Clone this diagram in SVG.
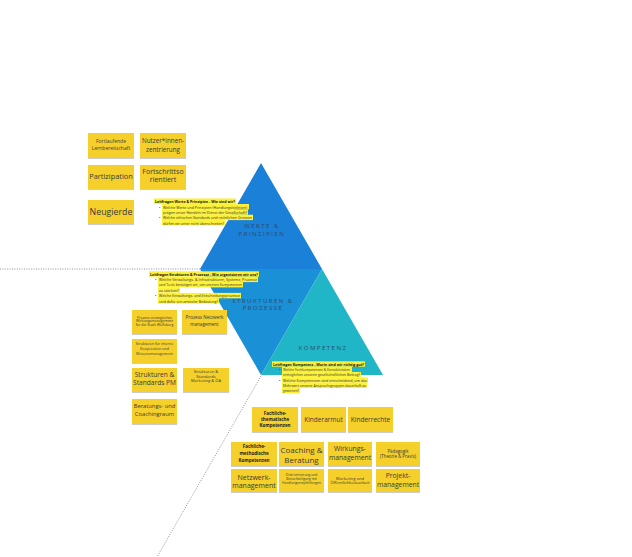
<svg xmlns="http://www.w3.org/2000/svg" width="632" height="557" viewBox="0 0 632 557">
<defs>
<filter id="sh" x="-10%" y="-10%" width="120%" height="130%">
<feDropShadow dx="0" dy="0.8" stdDeviation="0.6" flood-color="#000" flood-opacity="0.25"/>
</filter>
<style>
.st{fill:#f5d02c;filter:url(#sh)}
.t{font-family:"Open Sans","Liberation Sans",sans-serif;fill:#3a3a3a;text-anchor:middle}
.b{font-weight:bold;fill:#222}
.lab{font-family:"Open Sans","Liberation Sans",sans-serif;fill:#2e4b6c;text-anchor:middle;font-size:6px;letter-spacing:1.5px}
.hl{fill:#fbf03a}
.q{font-family:"Open Sans","Liberation Sans",sans-serif;font-size:3.8px;fill:#333}
.qt{font-weight:bold;fill:#111}
.dot{fill:none;stroke:#777;stroke-width:0.8;stroke-dasharray:1 1.4}
</style>
</defs>
<rect width="632" height="557" fill="#ffffff"/>

<g id="connectors">
<line class="dot" x1="0" y1="269" x2="200" y2="269"/>
<line class="dot" x1="261" y1="376" x2="157" y2="557"/>
</g>

<g id="pyramid-werte">
<polygon points="261,163 200,269 322,269" fill="#1b80d8"/>
<text class="lab" x="262" y="228">WERTE &amp;</text>
<text class="lab" x="262" y="235.5">PRINZIPIEN</text>
</g>
<g id="pyramid-strukturen">
<polygon points="200,269 322,269 261,375" fill="#1a90d6"/>
<text class="lab" x="263" y="303">STRUKTUREN &amp;</text>
<text class="lab" x="263" y="310">PROZESSE</text>
</g>
<g id="pyramid-kompetenz">
<polygon points="322,269 261,375 383,375" fill="#21b5c8"/>
<text class="lab" x="323" y="350">KOMPETENZ</text>
</g>

<g id="leitfragen-werte">
<rect class="hl" x="154" y="198.5" width="82" height="5.4"/>
<rect class="hl" x="162" y="204" width="87" height="5.4"/>
<rect class="hl" x="162" y="209.4" width="86" height="5.4"/>
<rect class="hl" x="162" y="214.7" width="91" height="5.4"/>
<rect class="hl" x="162" y="220" width="63" height="5.4"/>
<text class="q qt" x="155" y="202.8" textLength="80" lengthAdjust="spacingAndGlyphs">Leitfragen Werte &amp; Prinzipien - Wie sind wir?</text>
<text class="q" x="159" y="208.6">•</text>
<text class="q" x="163" y="208.6" textLength="84" lengthAdjust="spacingAndGlyphs">Welche Werte und Prinzipien (Handlungsleitlinien)</text>
<text class="q" x="163" y="214" textLength="84" lengthAdjust="spacingAndGlyphs">prägen unser Handeln im Dienst der Gesellschaft?</text>
<text class="q" x="159" y="219.2">•</text>
<text class="q" x="163" y="219.2" textLength="89" lengthAdjust="spacingAndGlyphs">Welche ethischen Standards und rechtlichen Grenzen</text>
<text class="q" x="163" y="224.5" textLength="61" lengthAdjust="spacingAndGlyphs">dürfen wir unter nicht überschreiten?</text>
</g>

<g id="leitfragen-strukturen">
<rect class="hl" x="149" y="271.3" width="110" height="5.4"/>
<rect class="hl" x="158" y="276.7" width="100" height="5.4"/>
<rect class="hl" x="158" y="282" width="85" height="5.4"/>
<rect class="hl" x="158" y="287.3" width="22" height="5.4"/>
<rect class="hl" x="158" y="292.9" width="83" height="5.4"/>
<rect class="hl" x="158" y="298.2" width="61" height="5.4"/>
<text class="q qt" x="150" y="275.6" textLength="108" lengthAdjust="spacingAndGlyphs">Leitfragen Strukturen &amp; Prozesse - Wie organisieren wir uns?</text>
<text class="q" x="155" y="281">•</text>
<text class="q" x="159" y="281" textLength="98" lengthAdjust="spacingAndGlyphs">Welche Verwaltungs- &amp; Infrastrukturen, Systeme, Prozesse</text>
<text class="q" x="159" y="286.3" textLength="83" lengthAdjust="spacingAndGlyphs">und Tools benötigen wir, um unseren Kompetenzen</text>
<text class="q" x="159" y="291.6" textLength="20" lengthAdjust="spacingAndGlyphs">zu stärken?</text>
<text class="q" x="155" y="297.2">•</text>
<text class="q" x="159" y="297.2" textLength="81" lengthAdjust="spacingAndGlyphs">Welche Verwaltungs- und Entscheidungsprozesse</text>
<text class="q" x="159" y="302.5" textLength="59" lengthAdjust="spacingAndGlyphs">sind dafür von zentraler Bedeutung?</text>
</g>

<g id="leitfragen-kompetenz">
<rect class="hl" x="272" y="361.3" width="93" height="5.4"/>
<rect class="hl" x="282" y="366.6" width="70" height="5.4"/>
<rect class="hl" x="282" y="372" width="79" height="5.4"/>
<rect class="hl" x="282" y="377.3" width="86" height="5.4"/>
<rect class="hl" x="282" y="382.6" width="85" height="5.4"/>
<rect class="hl" x="282" y="387.9" width="18" height="5.4"/>
<text class="q qt" x="273" y="365.6" textLength="91" lengthAdjust="spacingAndGlyphs">Leitfragen Kompetenz - Worin sind wir richtig gut?</text>
<text class="q" x="279" y="370.9">•</text>
<text class="q" x="283" y="370.9" textLength="67" lengthAdjust="spacingAndGlyphs">Welche Fachkompetenzen &amp; Kernaktivitäten</text>
<text class="q" x="283" y="376.3" textLength="77" lengthAdjust="spacingAndGlyphs">ermöglichen unseren gesellschaftlichen Beitrag?</text>
<text class="q" x="279" y="381.6">•</text>
<text class="q" x="283" y="381.6" textLength="84" lengthAdjust="spacingAndGlyphs">Welche Kompetenzen sind entscheidend, um das</text>
<text class="q" x="283" y="386.9" textLength="83" lengthAdjust="spacingAndGlyphs">Mehrwert unserer Anspruchsgruppen dauerhaft zu</text>
<text class="q" x="283" y="392.2" textLength="16" lengthAdjust="spacingAndGlyphs">gewinnen?</text>
</g>

<g id="note-lernbereitschaft">
<rect class="st" x="88" y="133" width="46" height="25"/>
<text class="t" x="111" y="142.5" font-size="5">Fortlaufende</text>
<text class="t" x="111" y="150" font-size="5">Lernbereitschaft</text>
</g>
<g id="note-nutzerzentrierung">
<rect class="st" x="140" y="133" width="46" height="25"/>
<text class="t" x="163" y="143" font-size="6.3">Nutzer*innen-</text>
<text class="t" x="163" y="151.5" font-size="6.3">zentrierung</text>
</g>
<g id="note-partizipation">
<rect class="st" x="88" y="165" width="46" height="24"/>
<text class="t" x="111" y="178.5" font-size="7.4">Partizipation</text>
</g>
<g id="note-fortschritt">
<rect class="st" x="140" y="165" width="46" height="24"/>
<text class="t" x="163" y="174.3" font-size="7">Fortschrittso</text>
<text class="t" x="163" y="182.3" font-size="7">rientiert</text>
</g>
<g id="note-neugierde">
<rect class="st" x="88" y="200" width="46" height="24"/>
<text class="t" x="111" y="214.5" font-size="8.8">Neugierde</text>
</g>

<g id="note-wirkungsmanagement">
<rect class="st" x="132" y="310" width="45" height="24"/>
<text class="t" x="154.5" y="318.6" font-size="3.5">Prozess strategisches</text>
<text class="t" x="154.5" y="322.4" font-size="3.5">Wirkungsmanagement</text>
<text class="t" x="154.5" y="326.2" font-size="3.5">für die Stadt Wolfsburg</text>
</g>
<g id="note-prozess-netzwerk">
<rect class="st" x="182" y="310" width="45" height="24"/>
<text class="t" x="204.5" y="319" font-size="4.6">Prozess Netzwerk</text>
<text class="t" x="204.5" y="325.6" font-size="4.6">management</text>
</g>
<g id="note-kooperation">
<rect class="st" x="132" y="339" width="45" height="24"/>
<text class="t" x="154.5" y="345.4" font-size="3.7">Strukturen für interne</text>
<text class="t" x="154.5" y="350.4" font-size="3.7">Kooperation und</text>
<text class="t" x="154.5" y="355.4" font-size="3.7">Wissensmanagement</text>
</g>
<g id="note-standards-pm">
<rect class="st" x="132" y="368" width="45" height="24"/>
<text class="t" x="154.5" y="376.5" font-size="6.6">Strukturen &amp;</text>
<text class="t" x="154.5" y="385" font-size="6.6">Standards PM</text>
</g>
<g id="note-standards-marketing">
<rect class="st" x="183" y="368" width="46" height="24"/>
<text class="t" x="206" y="373.3" font-size="4.1">Strukturen &amp;</text>
<text class="t" x="206" y="377.6" font-size="4.1">Standards</text>
<text class="t" x="206" y="381.9" font-size="4.1">Marketing &amp; ÖA</text>
</g>
<g id="note-beratungsraum">
<rect class="st" x="132" y="399" width="45" height="25"/>
<text class="t" x="154.5" y="408.2" font-size="5.8">Beratungs- und</text>
<text class="t" x="154.5" y="415.6" font-size="5.8">Coachingraum</text>
</g>

<g id="note-fachlich-thematisch">
<rect class="st" x="252" y="407" width="46" height="25"/>
<text class="t b" x="275" y="414.6" font-size="4.5">Fachliche-</text>
<text class="t b" x="275" y="420.8" font-size="4.5">thematische</text>
<text class="t b" x="275" y="427" font-size="4.5">Kompetenzen</text>
</g>
<g id="note-kinderarmut">
<rect class="st" x="301" y="407" width="45" height="25"/>
<text class="t" x="323.5" y="421.8" font-size="6.5">Kinderarmut</text>
</g>
<g id="note-kinderrechte">
<rect class="st" x="348" y="407" width="45" height="25"/>
<text class="t" x="370.5" y="421.8" font-size="6.5">Kinderrechte</text>
</g>
<g id="note-fachlich-methodisch">
<rect class="st" x="231" y="442" width="46" height="24"/>
<text class="t b" x="254" y="448.2" font-size="4.5">Fachliche-</text>
<text class="t b" x="254" y="454.8" font-size="4.5">methodische</text>
<text class="t b" x="254" y="461.8" font-size="4.5">Kompetenzen</text>
</g>
<g id="note-coaching">
<rect class="st" x="279" y="442" width="45" height="24"/>
<text class="t" x="301.5" y="452.8" font-size="8">Coaching &amp;</text>
<text class="t" x="301.5" y="462.6" font-size="8">Beratung</text>
</g>
<g id="note-wirkungs">
<rect class="st" x="328" y="442" width="44" height="24"/>
<text class="t" x="350" y="451" font-size="6.8">Wirkungs-</text>
<text class="t" x="350" y="460" font-size="6.8">management</text>
</g>
<g id="note-paedagogik">
<rect class="st" x="376" y="442" width="44" height="24"/>
<text class="t" x="398" y="453.3" font-size="4.4">Pädagogik</text>
<text class="t" x="398" y="458.4" font-size="4.4">(Theorie &amp; Praxis)</text>
</g>
<g id="note-netzwerk">
<rect class="st" x="231" y="469" width="46" height="23"/>
<text class="t" x="254" y="479.8" font-size="7">Netzwerk-</text>
<text class="t" x="254" y="488.2" font-size="7">management</text>
</g>
<g id="note-diskriminierung">
<rect class="st" x="279" y="469" width="45" height="23"/>
<text class="t" x="301.5" y="476.3" font-size="3.3">Diskriminierung und</text>
<text class="t" x="301.5" y="480" font-size="3.3">Benachteiligung mit</text>
<text class="t" x="301.5" y="483.7" font-size="3.3">Handlungsempfehlungen</text>
</g>
<g id="note-marketing">
<rect class="st" x="328" y="469" width="44" height="23"/>
<text class="t" x="350" y="479.6" font-size="4.1">Marketing und</text>
<text class="t" x="350" y="484.3" font-size="4.1">Öffentlichkeitsarbeit</text>
</g>
<g id="note-projekt">
<rect class="st" x="376" y="469" width="44" height="23"/>
<text class="t" x="398" y="477.8" font-size="6.8">Projekt-</text>
<text class="t" x="398" y="487.4" font-size="6.8">management</text>
</g>
</svg>
